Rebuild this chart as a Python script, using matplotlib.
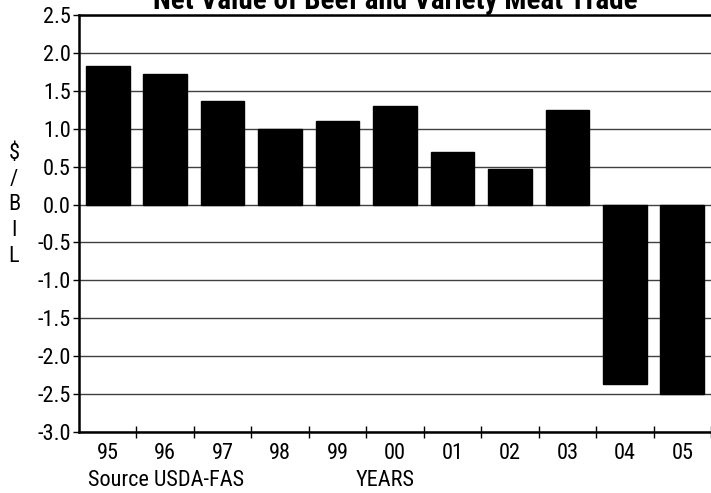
import numpy as np
import matplotlib.pyplot as plt
from matplotlib import font_manager

years = ['95', '96', '97', '98', '99', '00', '01', '02', '03', '04', '05']
net_value = [1.83, 1.72, 1.37, 1.0, 1.1, 1.3, 0.69, 0.47, 1.25, -2.37, -2.5]
yticks = np.arange(-3.0, 2.51, 0.5)

# pick a narrow Arial-like face if there is one
names = {f.name for f in font_manager.fontManager.ttflist}
wanted = ['Arial Narrow', 'Liberation Sans Narrow', 'Roboto Condensed',
          'Archivo Narrow', 'PT Sans Narrow', 'Liberation Sans']
fam = [n for n in wanted if n in names][0]
plt.rcParams['font.family'] = [fam, 'DejaVu Sans']

fig = plt.figure(figsize=(7.11, 4.93), dpi=100)
ax = fig.add_axes([79 / 711, 1 - 432 / 493, (711 - 79) / 711, (432 - 15) / 493])

x = np.arange(len(years))
ax.bar(x, net_value, width=0.76, color='black', edgecolor='black', zorder=3)

ax.set_ylim(-3.0, 2.5)
ax.set_xlim(-0.5, 10.4)
ax.set_yticks(yticks)
ax.set_yticklabels(['%.1f' % v for v in yticks], fontsize=16)
ax.yaxis.grid(True, color='#404040', linewidth=1.0, zorder=0)

# ticks sit between the categories, labels in the middle
ax.set_xticks(x + 0.5)
ax.set_xticklabels([])
ax.set_xticks(x, minor=True)
ax.set_xticklabels(years, minor=True, fontsize=16)
ax.tick_params(axis='x', which='minor', length=0, pad=8)
ax.tick_params(axis='x', which='major', direction='inout', length=8, width=1)
ax.tick_params(axis='y', direction='out', length=4, width=1, pad=2)

for s in ['left', 'bottom', 'top']:
    ax.spines[s].set_linewidth(1.8)
ax.spines['right'].set_visible(False)

ax.set_title('Net Value of Beef and Variety Meat Trade', fontsize=21,
             fontweight='bold', pad=1)

fig.text(14 / 711, 1 - 205 / 493, '$\n/\nB\nI\nL', ha='center', va='center',
         fontsize=16, linespacing=1.3)
fig.text(88 / 711, 1 - 480 / 493, 'Source USDA-FAS', ha='left', va='center',
         fontsize=16)
fig.text(385 / 711, 1 - 480 / 493, 'YEARS', ha='center', va='center',
         fontsize=16)

fig.savefig('out.png', dpi=100)
